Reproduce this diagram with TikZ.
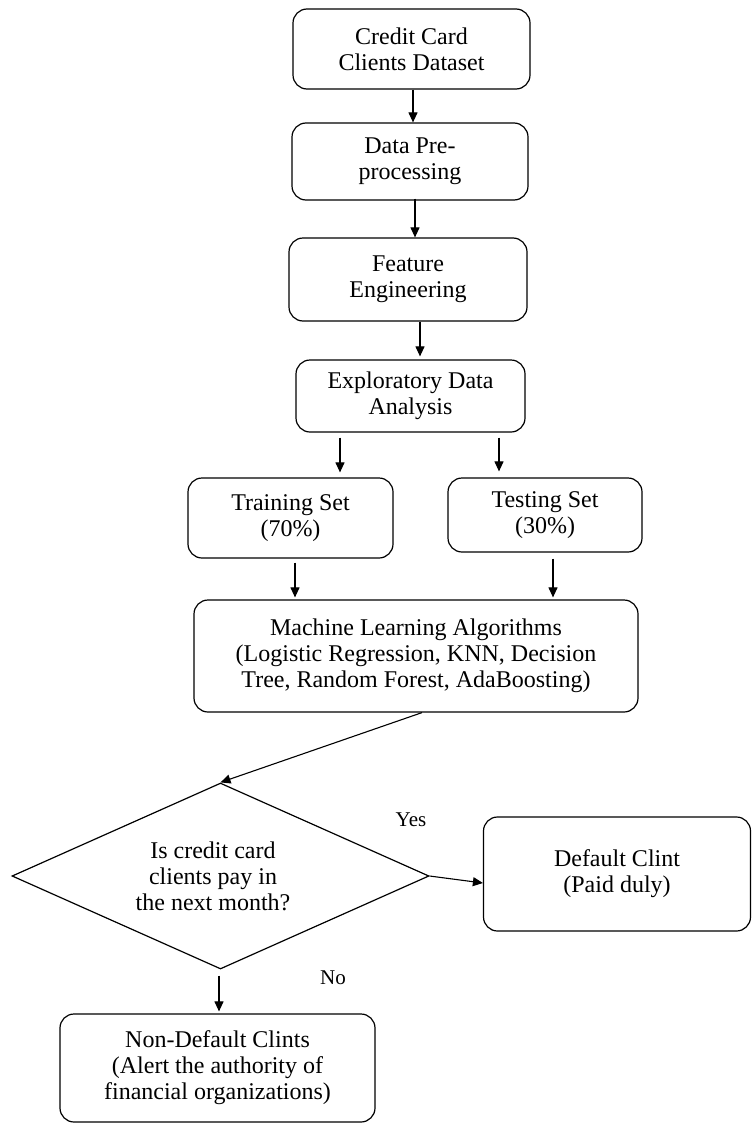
\documentclass[tikz,border=0pt]{standalone}
\usepackage{fontspec}
\setmainfont{Liberation Serif}
\usetikzlibrary{arrows.meta,shapes.geometric}
\begin{document}
\begin{tikzpicture}[x=1pt,y=-1pt,
  txt/.style={font=\fontsize{24}{26}\selectfont, align=center},
  box/.style={txt, draw, line width=1.2pt, rounded corners=14pt, inner sep=0pt},
  arr/.style={line width=1.1pt, -{Triangle[length=10pt,width=9pt]}},
  lbl/.style={font=\fontsize{21}{24}\selectfont, inner sep=0pt}]
\fill[white] (0,0) rectangle (752,1124);
\useasboundingbox (0,0) rectangle (752,1124);

\node[box, minimum width=237pt, minimum height=80pt] (b1) at (411.5,49) {Credit Card\\Clients Dataset};
\node[box, minimum width=236pt, minimum height=77pt] (b2) at (410,161.5) {Data Pre-\\processing};
\node[box, minimum width=238pt, minimum height=83pt] (b3) at (408,279.5) {Feature\\Engineering};
\node[box, minimum width=229pt, minimum height=72pt] (b4) at (410.5,396) {Exploratory Data\\Analysis};
\node[box, minimum width=205pt, minimum height=80pt] (train) at (290.5,518) {Training Set\\(70\%)};
\node[box, minimum width=194pt, minimum height=74pt] (test) at (545,515) {Testing Set\\(30\%)};
\node[box, minimum width=444pt, minimum height=112pt] (ml) at (416,656) {Machine Learning Algorithms\\(Logistic Regression, KNN, Decision\\Tree, Random Forest, AdaBoosting)};
\node[txt, draw, diamond, line width=1.2pt, inner sep=0pt, minimum width=417pt, minimum height=186pt] (dia) at (220.5,876) {};
\node[txt] (diat) at (213,876) {Is credit card\\clients pay in\\the next month?};
\node[box, minimum width=267pt, minimum height=114pt] (def) at (617,874) {Default Clint\\(Paid duly)};
\node[box, minimum width=315pt, minimum height=108pt] (nd) at (217.5,1068) {Non-Default Clints\\(Alert the authority of\\financial organizations)};

\node[lbl] (yes) at (411,820) {Yes};
\node[lbl] (no) at (333,978) {No};

\draw[arr] ([xshift=1.5pt]b1.south) -- ([xshift=3pt]b2.north);
\draw[arr] ([xshift=5pt,yshift=2pt]b2.south) -- ([xshift=7pt]b3.north);
\draw[arr] ([xshift=12pt]b3.south) -- ([xshift=9.5pt,yshift=3pt]b4.north);
\draw[arr] ([xshift=-70.5pt,yshift=-5pt]b4.south) -- ([xshift=49.5pt,yshift=5pt]train.north);
\draw[arr] ([xshift=88.5pt,yshift=-5pt]b4.south) -- ([xshift=-46pt,yshift=6pt]test.north);
\draw[arr] ([xshift=4.5pt,yshift=-4pt]train.south) -- ([xshift=-121pt,yshift=2pt]ml.north);
\draw[arr] ([xshift=8pt,yshift=-6pt]test.south) -- ([xshift=137pt,yshift=2pt]ml.north);
\draw[arr] ([xshift=6pt]ml.south) -- (dia.north);
\draw[arr] (dia.east) -- ([yshift=-9pt]def.west);
\draw[arr] ([xshift=-1.5pt,yshift=-6pt]dia.south) -- ([xshift=1.5pt,yshift=2pt]nd.north);
\end{tikzpicture}
\end{document}
